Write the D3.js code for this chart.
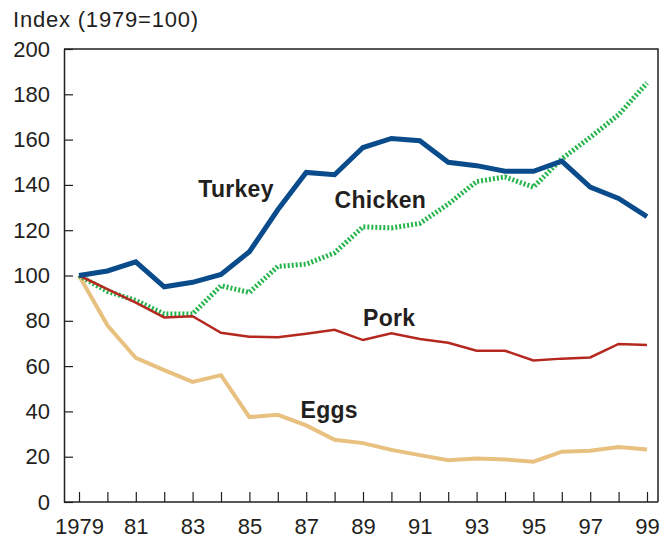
<!DOCTYPE html>
<html>
<head>
  <script src="https://d3js.org/d3.v7.min.js" type="text/javascript"></script>
  <style>
    body { margin: 0; background: #fff; }
    svg text { font-family: "Liberation Sans", Arial, Helvetica, sans-serif; fill: #231f20; }
  </style>
</head>
<body>
<svg id="svg" width="666" height="539"></svg>
<script type="text/javascript">
  // data, index 1979 = 100
  var years = d3.range(1979, 2000);
  var turkey = [100, 102, 106, 95, 97, 100.5, 110.5, 129, 145.5, 144.5, 156.5, 160.5, 159.5, 150, 148.5, 146, 146, 150.5, 139, 134, 126];
  var chicken = [100, 93, 89, 83, 83, 95.5, 92.5, 104, 105, 110, 121.5, 121, 123, 131.5, 141.5, 143.5, 139, 151.5, 161, 171, 185];
  var pork = [100, 94, 88, 81.5, 82, 74.7, 73, 72.7, 74.3, 76, 71.5, 74.5, 72, 70.3, 66.8, 66.8, 62.5, 63.3, 63.8, 69.8, 69.3];
  var eggs = [100, 78, 63.6, 58.2, 53, 56, 37.5, 38.5, 33.8, 27.5, 26, 23, 20.7, 18.4, 19.2, 18.8, 17.8, 22.2, 22.6, 24.3, 23.2];

  var yTicks = [0, 20, 40, 60, 80, 100, 120, 140, 160, 180, 200];
  var xTicks = [1979, 1981, 1983, 1985, 1987, 1989, 1991, 1993, 1995, 1997, 1999];

  // series labels: [name, year, value] where the text starts / sits
  var labels = [
    ["Turkey", 1983.2, 134.7],
    ["Chicken", 1988.0, 129.8],
    ["Pork", 1989.0, 77.7],
    ["Eggs", 1986.8, 37.1]
  ];

  var svg = d3.select("svg");
  var plotLeft = 64, plotRight = 658, plotTop = 49, plotBottom = 502;

  var x = d3.scaleLinear().domain([1979, 1999]).range([79, 647]);
  var y = d3.scaleLinear().domain([0, 200]).range([plotBottom, plotTop]);

  // title
  svg.append("text")
    .attr("x", 13).attr("y", 27)
    .style("font-size", "22px")
    .style("letter-spacing", "0.8px")
    .text("Index (1979=100)");

  // frame: top and right edges
  svg.append("path")
    .attr("d", "M" + plotLeft + "," + plotTop + "H" + plotRight + "V" + plotBottom)
    .attr("fill", "none")
    .attr("stroke", "#231f20")
    .attr("stroke-width", 1.5);

  // y axis, ticks pointing inside
  var yAxis = svg.append("g")
    .attr("transform", "translate(" + plotLeft + ",0)")
    .call(d3.axisLeft(y).tickValues(yTicks).tickSizeInner(-9).tickSizeOuter(0).tickPadding(14));

  // x axis
  var xAxis = svg.append("g")
    .attr("transform", "translate(0," + plotBottom + ")")
    .call(d3.axisBottom(x).tickValues(d3.range(1979, 2000)).tickSizeInner(-10).tickSizeOuter(0).tickPadding(16)
      .tickFormat(function(d) {
        if (xTicks.indexOf(d) < 0) return "";
        return d == 1979 ? "1979" : String(d % 100);
      }));

  // stretch x domain line across the plot area
  xAxis.select(".domain").attr("d", "M" + plotLeft + ",0H" + plotRight);

  [yAxis, xAxis].forEach(function(g) {
    g.select(".domain").attr("stroke", "#231f20").attr("stroke-width", 1.5);
    g.selectAll(".tick line").attr("stroke", "#231f20").attr("stroke-width", 1.2);
    g.selectAll(".tick text").style("font-size", "22px").attr("fill", "#231f20");
  });

  var line = d3.line()
    .x(function(d, i) { return x(years[i]); })
    .y(function(d) { return y(d); });

  // draw order: eggs, chicken, pork, turkey
  var series = [
    { values: eggs, color: "#e8c07f", width: 4, dash: null },
    { values: chicken, color: "#25b34b", width: 5, dash: "2,2" },
    { values: pork, color: "#b5281f", width: 2.5, dash: null },
    { values: turkey, color: "#0a4b8b", width: 5, dash: null }
  ];

  svg.append("g")
    .selectAll("path")
    .data(series)
    .enter().append("path")
      .attr("d", function(d) { return line(d.values); })
      .attr("fill", "none")
      .attr("stroke", function(d) { return d.color; })
      .attr("stroke-width", function(d) { return d.width; })
      .attr("stroke-dasharray", function(d) { return d.dash; });

  svg.append("g")
    .selectAll("text")
    .data(labels)
    .enter().append("text")
      .attr("x", function(d) { return x(d[1]); })
      .attr("y", function(d) { return y(d[2]); })
      .style("font-size", "23px")
      .style("font-weight", "bold")
      .style("letter-spacing", "0.3px")
      .text(function(d) { return d[0]; });
</script>
</body>
</html>
